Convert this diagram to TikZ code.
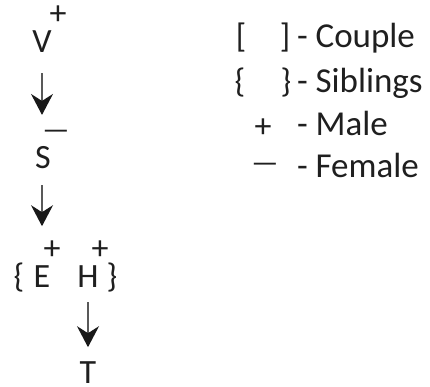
\documentclass[tikz,border=0pt]{standalone}
\usepackage{fontspec}
\setmainfont{Carlito}
\usetikzlibrary{arrows.meta}
\begin{document}
\begin{tikzpicture}[x=1pt,y=-1pt,
  txt/.style={inner sep=0pt,outer sep=0pt,text=black!88,font=\fontsize{34}{40}\selectfont},
  letter/.style={txt,anchor=base},
  sign/.style={txt,anchor=center},
  dashsign/.style={inner sep=0pt,outer sep=0pt,text=black!88,font=\fontsize{30}{36}\selectfont,anchor=center},
  legtext/.style={inner sep=0pt,outer sep=0pt,text=black!88,font=\fontsize{35}{40}\selectfont,anchor=base west},
  arr/.style={draw=black!65,line width=1.4pt,-{Stealth[length=21pt,width=22pt,inset=7pt,color=black!90]}}
]
\useasboundingbox (0,0) rectangle (430,386);
% tree
\node[letter] (V) at (42,52) {V};
\node[sign] (Vs) at (58,15) {+};
\node[letter] (S) at (43,168) {S};
\node[dashsign] (Ss) at (56,135) {—};
\node[letter] (E) at (42,287) {E};
\node[sign] (Es) at (52,250) {+};
\node[letter] (H) at (88,287) {H};
\node[sign] (Hs) at (100,250) {+};
\node[letter] (lb) at (19,287) {\{};
\node[letter] (rb) at (112,287) {\}};
\node[letter] (T) at (88,383) {T};
\draw[arr,shorten <=21pt,shorten >=31pt] (V.south) -- (V.south |- S.north);
\draw[arr,shorten <=17pt,shorten >=39pt] (E.north |- S.south) -- (E.north);
\draw[arr,shorten <=15pt,shorten >=14pt] (H.south) -- (T.north);
% legend
\node[letter] (c1) at (241,47) {[};
\node[letter] (c2) at (285,47) {]};
\node[legtext] (cl) at (297,47) {- Couple};
\node[letter] (s1) at (240,92) {\{};
\node[letter] (s2) at (286,92) {\}};
\node[legtext] (sl) at (297,92) {- Siblings};
\node[sign] (m1) at (263,128) {+};
\node[legtext] (ml) at (297,135) {- Male};
\node[dashsign] (f1) at (265,168) {—};
\node[legtext] (fl) at (297,177) {- Female};
\end{tikzpicture}
\end{document}
